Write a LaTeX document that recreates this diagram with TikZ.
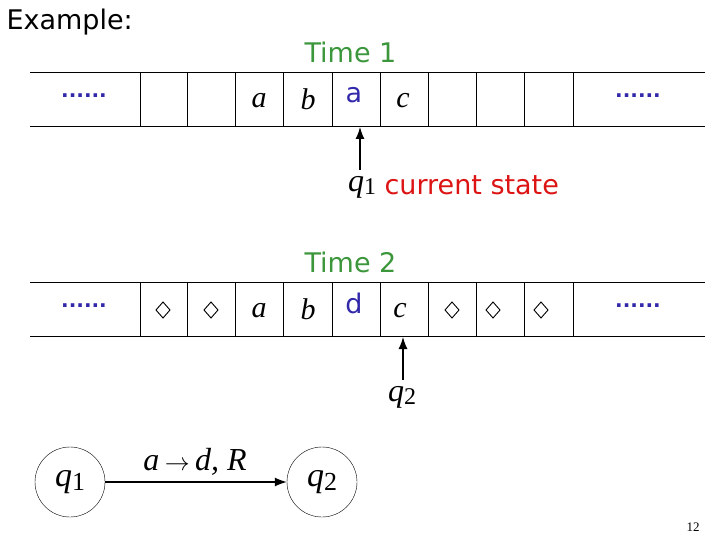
\documentclass[tikz,border=0pt]{standalone}
\usepackage{fontspec}
\setmainfont{DejaVu Sans}
\newfontfamily\serifit{Liberation Serif}
\usetikzlibrary{arrows.meta}
\definecolor{tgreen}{RGB}{60,150,60}
\definecolor{tblue}{RGB}{50,40,170}
\definecolor{tred}{RGB}{220,20,20}
\begin{document}
\begin{tikzpicture}[x=1pt,y=-1pt,
  lbl/.style={font=\fontsize{27}{29}\selectfont},
  sym/.style={font=\serifit\itshape\fontsize{32}{34}\selectfont},
  cell/.style={font=\serifit\itshape\fontsize{30}{32}\selectfont},
  dots/.style={text=tblue,font=\bfseries\fontsize{20}{20}\selectfont},
  st/.style={draw,circle,minimum size=70pt,inner sep=0pt,font=\serifit\itshape\fontsize{34}{36}\selectfont},
  arr/.style={-{Latex[length=12pt,width=9pt]},line width=1.3pt}]
\useasboundingbox (0,0) rectangle (720,540);
\node[lbl,anchor=west] (ex) at (3,22) {Example:};
% tape 1
\draw[line width=0.8pt] (30,72) -- (705,72) (30,126) -- (705,126);
\foreach \x in {140,187,235,283,332,380,428,476,524,573}{\draw[line width=0.8pt] (\x,72) -- (\x,126);}
\node[dots] (d1) at (84,96) {......};
\node[dots] (d2) at (638,96) {......};
\node[cell] (a1) at (259,101) {a};
\node[cell] (b1) at (308,99) {b};
\node[lbl,text=tblue] (x1) at (354,95) {a};
\node[cell] (c1) at (403,101) {c};
\node[lbl,text=tgreen,anchor=west] (t1) at (301,52) {Time 1};
\coordinate (h1) at (360,127);
\node[sym] (q1) at (362,187) {q\fontsize{24}{24}\selectfont\raisebox{-3pt}{\upshape 1}};
\node[lbl,text=tred,anchor=west] (cs) at (381,185) {current state};
\draw[arr] (360,170) -- (h1);
% tape 2
\draw[line width=0.8pt] (30,282) -- (705,282) (30,336) -- (705,336);
\foreach \x in {140,187,235,283,332,380,428,476,524,573}{\draw[line width=0.8pt] (\x,282) -- (\x,336);}
\node[dots] (d3) at (84,306) {......};
\node[dots] (d4) at (638,306) {......};
\foreach \x in {163,211,452,493,541}{\draw[line width=0.9pt] (\x-7,310) -- (\x,302) -- (\x+7,310) -- (\x,318) -- cycle;}
\node[cell] (a2) at (259,311) {a};
\node[cell] (b2) at (308,309) {b};
\node[lbl,text=tblue] (x2) at (354,303) {d};
\node[cell] (c2) at (400,311) {c};
\node[lbl,text=tgreen,anchor=west] (t2) at (301,262) {Time 2};
\coordinate (h2) at (403,337);
\node[sym] (q2) at (402,397) {q\fontsize{24}{24}\selectfont\raisebox{-3pt}{\upshape 2}};
\draw[arr] (403,380) -- (h2);
% states
\node[st] (s1) at (70,482) {q\fontsize{26}{26}\selectfont\raisebox{-4pt}{\upshape 1}};
\node[st] (s2) at (322,482) {q\fontsize{26}{26}\selectfont\raisebox{-4pt}{\upshape 2}};
\draw[arr] (s1) -- (s2);
\node[sym] (tr) at (195,462) {a\,$\rightarrow$\,d, R};
\node[font=\serifit\fontsize{13}{13}\selectfont] (pg) at (693,527) {12};
\end{tikzpicture}
\end{document}
